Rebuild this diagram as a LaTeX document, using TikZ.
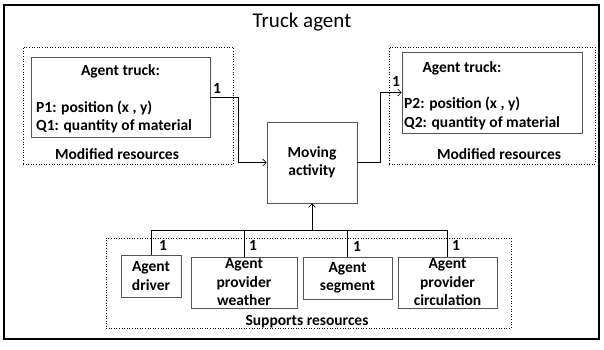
\documentclass[tikz,border=0pt]{standalone}
\usepackage{fontspec}
\setmainfont{Carlito}
\usetikzlibrary{arrows.meta}
\definecolor{boxgray}{HTML}{555555}
\begin{document}
\begin{tikzpicture}[x=1pt,y=-1pt,
  box/.style={draw=boxgray, line width=0.8pt, inner sep=0pt, align=center, font=\bfseries\fontsize{15.5}{18.5}\selectfont},
  dotbox/.style={draw=black, dotted, line width=0.6pt, inner sep=0pt},
  lbl/.style={inner sep=0pt, font=\bfseries\fontsize{15.5}{18.5}\selectfont},
  conn/.style={draw=black, line width=0.6pt},
  arr/.style={conn, -{Straight Barb[length=3.5pt,width=7pt]}}
]
\useasboundingbox (0,0) rectangle (604,349);
\node[draw=black, line width=1.4pt, minimum width=595pt, minimum height=334pt, inner sep=0pt] (frame) at (301.5,172) {};
\node[inner sep=0pt, font=\fontsize{21}{25}\selectfont] (title) at (302,22) {Truck agent};

% left modified resources
\node[dotbox, minimum width=210pt, minimum height=117pt] (ldot) at (128,105.5) {};
\node[box, minimum width=179pt, minimum height=80pt] (lt) at (120.5,97) {};
\node[lbl] (lthead) at (120.5,71) {Agent truck:};
\node[lbl, anchor=west] (lp) at (36,108) {P1: position (x , y)};
\node[lbl, anchor=west] (lq) at (36,126) {Q1: quantity of material};
\node[lbl] (lmod) at (117,154) {Modified resources};

% right modified resources
\node[dotbox, minimum width=206pt, minimum height=117pt] (rdot) at (492,105.5) {};
\node[box, minimum width=180pt, minimum height=81pt] (rt) at (492,92.5) {};
\node[lbl] (rthead) at (462,68) {Agent truck:};
\node[lbl, anchor=west] (rp) at (404,104) {P2: position (x , y)};
\node[lbl, anchor=west] (rq) at (404,123) {Q2: quantity of material};
\node[lbl] (rmod) at (499,154) {Modified resources};

% moving activity
\node[box, minimum width=90pt, minimum height=81pt] (mov) at (312,162.5) {Moving\\activity};

% supports resources
\node[dotbox, minimum width=405pt, minimum height=90pt] (sdot) at (308.5,283) {};
\node[box, minimum width=60pt, minimum height=42pt] (drv) at (151,276) {Agent\\driver};
\node[box, minimum width=106pt, minimum height=51pt] (wea) at (244,282.5) {Agent\\provider\\weather};
\node[box, minimum width=89pt, minimum height=42pt] (seg) at (347.5,278) {Agent\\segment};
\node[box, minimum width=99pt, minimum height=51pt] (cir) at (447.5,282.5) {Agent\\provider\\circulation};
\node[lbl] (sup) at (307,322) {Supports resources};

% connectors
\draw[arr] (lt.east) -- ++(28,0) |- (mov.west);
\draw[arr] (mov.east) -- ++(23,0) |- (rt.west);
\coordinate (bus) at (312,230);
\draw[conn] (drv.north) |- (bus);
\draw[conn] (cir.north) |- (bus);
\draw[conn] (wea.north) -- (wea.north |- bus);
\draw[conn] (seg.north) -- (seg.north |- bus);
\draw[arr] (bus) -- (mov.south);

% multiplicities
\node[lbl] (m1) at (217,88) {1};
\node[lbl] (m2) at (396,81) {1};
\node[lbl] (m3) at (163,245) {1};
\node[lbl] (m4) at (253,245) {1};
\node[lbl] (m5) at (357,246) {1};
\node[lbl] (m6) at (456,245) {1};
\end{tikzpicture}
\end{document}
